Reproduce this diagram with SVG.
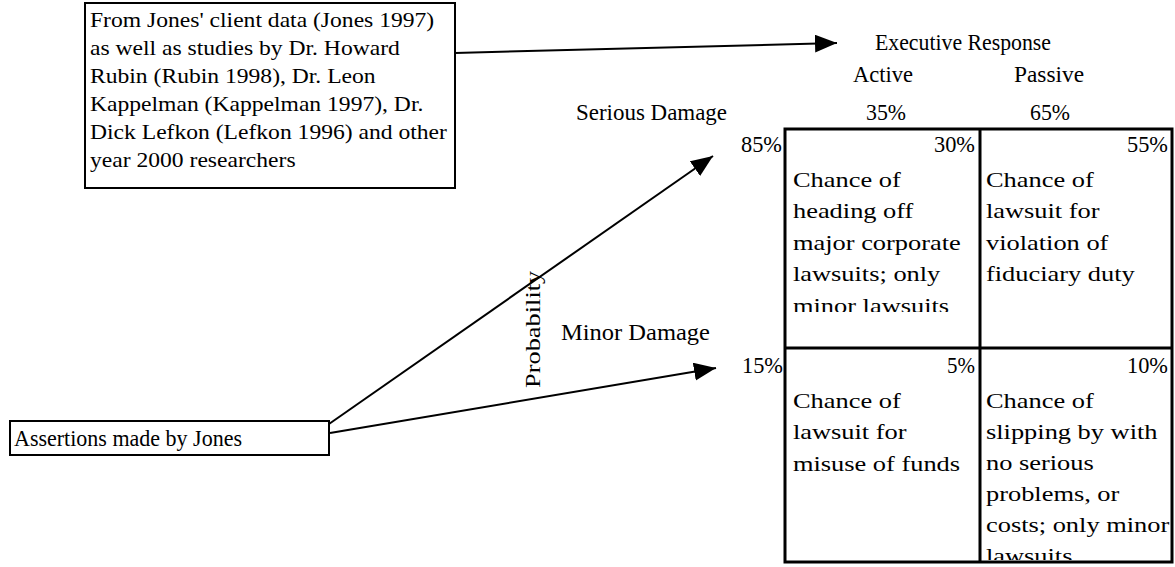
<svg xmlns="http://www.w3.org/2000/svg" width="1175" height="567" viewBox="0 0 1175 567">
<style>
.hdr{font-family:"Liberation Serif","Times New Roman",serif;font-size:24px;fill:#000}
.box{font-family:"Liberation Serif","Times New Roman",serif;font-size:20px;fill:#000}
.cell{font-family:"Liberation Serif","Times New Roman",serif;font-size:22px;fill:#000}
.frame{fill:#fff;stroke:#000;stroke-width:2}
.grid{stroke:#000;stroke-width:3;fill:none}
.conn{stroke:#000;stroke-width:2;fill:none}
</style>
<defs>
<marker id="arr" markerUnits="userSpaceOnUse" markerWidth="24" markerHeight="20" refX="22" refY="9" orient="auto">
<path d="M0,0 L22,9 L0,18 z" fill="#000"/>
</marker>
<clipPath id="c1"><rect x="787" y="130" width="192" height="182"/></clipPath>
<clipPath id="c4"><rect x="982" y="350" width="189" height="210"/></clipPath>
</defs>
<rect width="1175" height="567" fill="#fff"/>
<g id="connectors">
<line class="conn" x1="455" y1="53" x2="837" y2="43" marker-end="url(#arr)"/>
<line class="conn" x1="329" y1="424" x2="713" y2="156" marker-end="url(#arr)"/>
<line class="conn" x1="330" y1="433" x2="716" y2="368" marker-end="url(#arr)"/>
</g>
<g id="source-note">
<rect class="frame" x="85" y="3" width="370" height="185"/>
<g class="box" transform="translate(90,0) scale(1.18,1)">
<text x="0" y="27">From Jones' client data (Jones 1997)</text>
<text x="0" y="55">as well as studies by Dr. Howard</text>
<text x="0" y="83">Rubin (Rubin 1998), Dr. Leon</text>
<text x="0" y="111">Kappelman (Kappelman 1997), Dr.</text>
<text x="0" y="139">Dick Lefkon (Lefkon 1996) and other</text>
<text x="0" y="167">year 2000 researchers</text>
</g>
</g>
<g id="assertions">
<rect class="frame" x="10" y="421" width="319" height="34"/>
<text class="hdr" x="14" y="446" textLength="228" lengthAdjust="spacingAndGlyphs">Assertions made by Jones</text>
</g>
<g id="probability-label">
<text class="cell" transform="translate(540,388) rotate(-90) scale(1.2,1)">Probability</text>
</g>
<g id="headers">
<text class="hdr" x="875" y="50" textLength="176" lengthAdjust="spacingAndGlyphs">Executive Response</text>
<text class="hdr" x="853" y="82" textLength="60" lengthAdjust="spacingAndGlyphs">Active</text>
<text class="hdr" x="1014" y="82" textLength="70" lengthAdjust="spacingAndGlyphs">Passive</text>
<text class="hdr" x="576" y="120" textLength="151" lengthAdjust="spacingAndGlyphs">Serious Damage</text>
<text class="hdr" x="866" y="120" textLength="40" lengthAdjust="spacingAndGlyphs">35%</text>
<text class="hdr" x="1030" y="120" textLength="40" lengthAdjust="spacingAndGlyphs">65%</text>
<text class="hdr" x="561" y="340" textLength="149" lengthAdjust="spacingAndGlyphs">Minor Damage</text>
<text class="hdr" x="741" y="152" textLength="41" lengthAdjust="spacingAndGlyphs">85%</text>
<text class="hdr" x="742" y="373" textLength="41" lengthAdjust="spacingAndGlyphs">15%</text>
</g>
<g id="matrix">
<rect class="grid" x="785" y="129" width="387" height="433"/>
<line class="grid" x1="980" y1="129" x2="980" y2="562"/>
<line class="grid" x1="785" y1="348" x2="1172" y2="348"/>
</g>
<g id="cell-serious-active">
<text class="hdr" x="934" y="152" textLength="41" lengthAdjust="spacingAndGlyphs">30%</text>
<g clip-path="url(#c1)">
<g class="cell" transform="translate(793,0) scale(1.2,1)">
<text x="0" y="187">Chance of</text>
<text x="0" y="218.3">heading off</text>
<text x="0" y="249.6">major corporate</text>
<text x="0" y="281">lawsuits; only</text>
<text x="0" y="313">minor lawsuits</text>
</g>
</g>
</g>
<g id="cell-serious-passive">
<text class="hdr" x="1127" y="152" textLength="41" lengthAdjust="spacingAndGlyphs">55%</text>
<g class="cell" transform="translate(986,0) scale(1.2,1)">
<text x="0" y="187">Chance of</text>
<text x="0" y="218.3">lawsuit for</text>
<text x="0" y="249.6">violation of</text>
<text x="0" y="281">fiduciary duty</text>
</g>
</g>
<g id="cell-minor-active">
<text class="hdr" x="947" y="373" textLength="28" lengthAdjust="spacingAndGlyphs">5%</text>
<g class="cell" transform="translate(793,0) scale(1.2,1)">
<text x="0" y="408">Chance of</text>
<text x="0" y="439.5">lawsuit for</text>
<text x="0" y="471">misuse of funds</text>
</g>
</g>
<g id="cell-minor-passive">
<text class="hdr" x="1127" y="373" textLength="41" lengthAdjust="spacingAndGlyphs">10%</text>
<g clip-path="url(#c4)">
<g class="cell" transform="translate(986,0) scale(1.2,1)">
<text x="0" y="408">Chance of</text>
<text x="0" y="439">slipping by with</text>
<text x="0" y="470">no serious</text>
<text x="0" y="501">problems, or</text>
<text x="0" y="532">costs; only minor</text>
<text x="0" y="563">lawsuits</text>
</g>
</g>
</g>
</svg>
